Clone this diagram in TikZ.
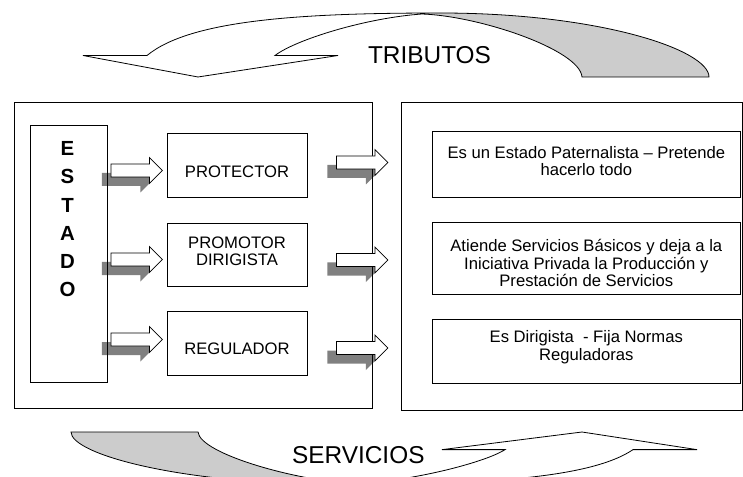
\documentclass[tikz,border=0pt]{standalone}
\usepackage{fontspec}
\setmainfont{Liberation Sans}
\usetikzlibrary{calc}
\definecolor{lightg}{HTML}{CCCCCC}
\definecolor{shadowgray}{HTML}{808080}
\pgfdeclarelayer{back}
\pgfsetlayers{back,main}
\newcommand\tribarrow[1]{%
 \fill[lightg] (422,14) .. controls (480,16) and (580,50) .. (582,77) -- (709,77) .. controls (709,50) and (600,13) .. (440,13) -- cycle;
 \draw[curve] (147,#1) .. controls (190,20) and (300,13) .. (440,13) .. controls (600,13) and (709,50) .. (709,77) -- (582,77) .. controls (580,50) and (480,16) .. (422,14) .. controls (365,18) and (295,40) .. (275,#1) -- (338,#1) -- (198,77) -- (83,#1) -- cycle;
}
\begin{document}
\begin{tikzpicture}[x=1bp,y=-1bp,
  box/.style={draw=black, line width=0.8bp, inner sep=0pt},
  txt/.style={inner sep=0pt, font=\fontsize{16.7}{17.6}\selectfont, align=center, anchor=base},
  big/.style={inner sep=0pt, font=\fontsize{24.5}{26}\selectfont, anchor=base},
  curve/.style={draw=black, line width=0.8bp, line join=miter},
  pics/barrow/.style={code={
    \begin{pgfonlayer}{back}
      \fill[shadowgray, shift={(-9,9)}] (0,-6.5) -- (38.5,-6.5) -- (38.5,-13) -- (51.5,0) -- (38.5,13) -- (38.5,6.5) -- (0,6.5) -- cycle;
    \end{pgfonlayer}
    \draw[fill=white, line width=0.8bp, line join=miter] (0,-6.5) -- (38.5,-6.5) -- (38.5,-13) -- (51.5,0) -- (38.5,13) -- (38.5,6.5) -- (0,6.5) -- cycle;
  }}
]
\useasboundingbox (0,0) rectangle (743,477);
\clip (0,0) rectangle (743,477);

% curved arrows
\tribarrow{55.5}
\begin{scope}[cm={-1,0,0,-0.82,(780bp,-495.14bp)}]
  \tribarrow{55.5}
\end{scope}
\node[big] (trib) at (429.5,63.3) {TRIBUTOS};
\node[big] (serv) at (358.3,463.3) {SERVICIOS};

% frames
\node[box, minimum width=358bp, minimum height=306bp] (leftframe) at (193,255) {};
\node[box, minimum width=341bp, minimum height=308.5bp] (rightframe) at (571.5,256.25) {};

% left column
\node[box, minimum width=77bp, minimum height=257bp] (estado) at (68.5,253.5) {};
\node[inner sep=0pt, anchor=base, align=center, font=\bfseries\fontsize{20.5}{28.4}\selectfont] (estadoT) at (67.5,297) {E\\S\\T\\A\\D\\O};

\node[box, minimum width=140bp, minimum height=64bp] (prot) at (237,165) {};
\node[box, minimum width=140bp, minimum height=63bp] (prom) at (237,254.5) {};
\node[box, minimum width=140bp, minimum height=64bp] (reg) at (237,343) {};
\node[txt] (protT) at (237,177.3) {PROTECTOR};
\node[txt] (promT) at (237,265.7) {PROMOTOR\\DIRIGISTA};
\node[txt] (regT) at (237,354) {REGULADOR};

% right column
\node[box, minimum width=307.3bp, minimum height=65.6bp] (r1) at (586.35,164.5) {};
\node[box, minimum width=307.3bp, minimum height=71.6bp] (r2) at (586.35,258.5) {};
\node[box, minimum width=307.3bp, minimum height=64bp] (r3) at (586.35,351.3) {};
\node[txt] (r1T) at (586.3,176) {Es un Estado Paternalista – Pretende\\hacerlo todo};
\node[txt] (r2T) at (586.3,286.7) {Atiende Servicios Básicos y deja a la\\Iniciativa Privada la Producción y\\Prestación de Servicios};
\node[txt] (r3T) at (586.3,360) {Es Dirigista\ \ - Fija Normas\\Reguladoras};

% block arrows
\pic at ($(estado.east |- prot.center)+(3.5,5.5)$) {barrow};
\pic at ($(estado.east |- prom.center)+(3.5,5)$) {barrow};
\pic at ($(estado.east |- reg.center)+(3.5,-3.5)$) {barrow};
\pic at ($(leftframe.east |- r1.center)+(-36,-2)$) {barrow};
\pic at ($(leftframe.east |- r2.center)+(-36,1.5)$) {barrow};
\pic at ($(leftframe.east |- r3.center)+(-36,-3.3)$) {barrow};
\end{tikzpicture}
\end{document}
